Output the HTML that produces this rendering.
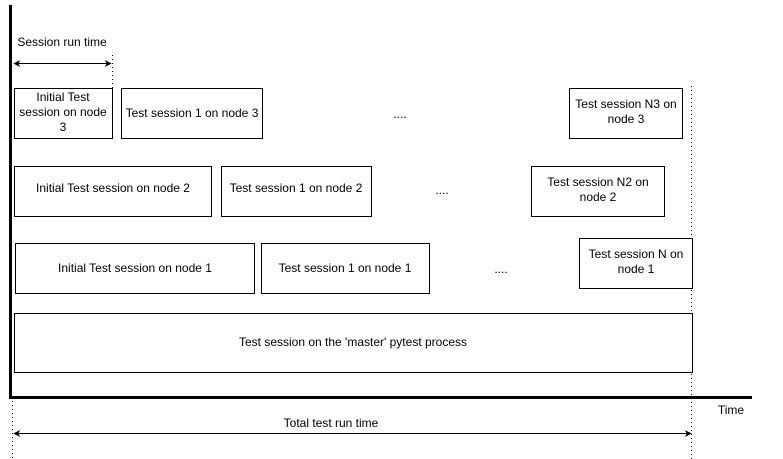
<!DOCTYPE html>
<html><head><meta charset="utf-8"><style>
html,body{margin:0;padding:0;background:#fff;width:783px;height:459px;overflow:hidden}
svg{display:block}
text{font-family:"Liberation Sans",Arial,sans-serif;font-size:12px;fill:#000}
</style></head><body>
<svg width="783" height="459" viewBox="0 0 783 459" xmlns="http://www.w3.org/2000/svg">
<defs>
<marker id="a" viewBox="0 0 10 10" refX="9" refY="5" markerWidth="7" markerHeight="7" orient="auto-start-reverse" markerUnits="userSpaceOnUse">
<path d="M0,0 L10,5 L0,10 L3,5 z" fill="#000"/>
</marker>
</defs>
<!-- axes -->
<path d="M10.5,5 L10.5,397.5 L752,397.5" fill="none" stroke="#000" stroke-width="3"/>
<!-- dotted guides -->
<line x1="112.5" y1="55" x2="112.5" y2="138" stroke="#000" stroke-dasharray="1,3"/>
<line x1="691.5" y1="86" x2="691.5" y2="459" stroke="#000" stroke-dasharray="1,3"/>
<line x1="12.5" y1="401" x2="12.5" y2="459" stroke="#000" stroke-dasharray="1,3"/>
<!-- arrows -->
<line x1="14" y1="63.5" x2="111" y2="63.5" stroke="#000" marker-start="url(#a)" marker-end="url(#a)"/>
<text x="62" y="46" text-anchor="middle">Session run time</text>
<line x1="14" y1="433.5" x2="691" y2="433.5" stroke="#000" marker-start="url(#a)" marker-end="url(#a)"/>
<text x="331" y="427" text-anchor="middle">Total test run time</text>
<text x="731" y="414" text-anchor="middle">Time</text>
<g fill="#fff" stroke="#000" stroke-width="1">
<rect x="14.5" y="88.5" width="98" height="50"/>
<rect x="121.5" y="88.5" width="141" height="50"/>
<rect x="569.5" y="88.5" width="113" height="50"/>
<rect x="14.5" y="166.5" width="197" height="50"/>
<rect x="221.5" y="166.5" width="150" height="50"/>
<rect x="531.5" y="166.5" width="133" height="50"/>
<rect x="15.5" y="243.5" width="239" height="50"/>
<rect x="261.5" y="243.5" width="168" height="50"/>
<rect x="579.5" y="238.5" width="113" height="50"/>
<rect x="14.5" y="313.5" width="678" height="59"/>
</g>
<g text-anchor="middle">
<text x="63" y="101">Initial Test</text>
<text x="63" y="116">session on node</text>
<text x="63" y="131">3</text>
<text x="192" y="117">Test session 1 on node 3</text>
<text x="400" y="118">....</text>
<text x="626" y="108">Test session N3 on</text>
<text x="626" y="123">node 3</text>
<text x="113" y="192">Initial Test session on node 2</text>
<text x="296" y="192">Test session 1 on node 2</text>
<text x="442" y="194">....</text>
<text x="598" y="186">Test session N2 on</text>
<text x="598" y="201">node 2</text>
<text x="135" y="272">Initial Test session on node 1</text>
<text x="345" y="272">Test session 1 on node 1</text>
<text x="501" y="273">....</text>
<text x="636" y="258">Test session N on</text>
<text x="636" y="273">node 1</text>
<text x="353" y="346">Test session on the 'master' pytest process</text>
</g>
</svg>
</body></html>
